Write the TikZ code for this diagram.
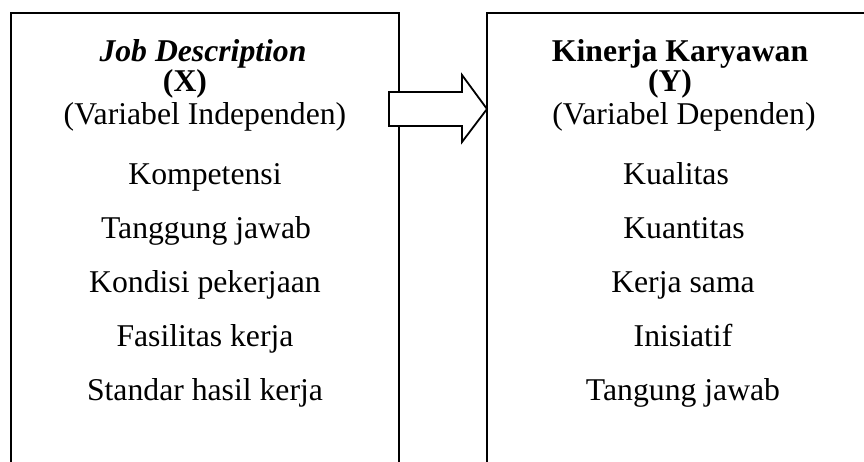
\documentclass[tikz,border=0pt]{standalone}
\usepackage{fontspec}
\setmainfont{Liberation Serif}
\usetikzlibrary{calc}
\begin{document}
\begin{tikzpicture}[x=1pt, y=-1pt, line join=miter,
  frame/.style={draw=black, line width=2.4pt, inner sep=0pt, outer sep=0pt,
                minimum width=#1, minimum height=490pt, anchor=north west},
  txt/.style={anchor=base, inner sep=0pt, font=\fontsize{31.7}{38}\selectfont},
  blockarrow/.style={draw=black, line width=1.8pt, fill=white}]
\useasboundingbox (0,0) rectangle (864,461);
\fill[white] (0,0) rectangle (864,461);

% the two variable boxes run past the lower and right edges
\begin{scope}
  \clip (0,0) rectangle (864,461);
  \node[frame=388pt] (X) at (11,13) {};
  \node[frame=400pt] (Y) at (487,13) {};
\end{scope}

% block arrow from X to Y
\coordinate (tip) at ($(Y.north west)+(0,96)$);
\draw[blockarrow] ($(tip)+(-98,-17)$) -- ($(tip)+(-25,-17)$) -- ($(tip)+(-25,-34)$)
  -- (tip) -- ($(tip)+(-25,33)$) -- ($(tip)+(-25,17)$) -- ($(tip)+(-98,17)$) -- cycle;

% independent variable
\node[txt] (x1) at (203,61)  {\bfseries\itshape Job Description};
\node[txt] (x2) at (185,91)  {\bfseries (X)};
\node[txt] (x3) at (205,124) {(Variabel Independen)};
\node[txt] (x4) at (205,184) {Kompetensi};
\node[txt] (x5) at (206,238) {Tanggung jawab};
\node[txt] (x6) at (205,292) {Kondisi pekerjaan};
\node[txt] (x7) at (205,346) {Fasilitas kerja};
\node[txt] (x8) at (205,400) {Standar hasil kerja};

% dependent variable
\node[txt] (y1) at (680,61)  {\bfseries Kinerja Karyawan};
\node[txt] (y2) at (670,91)  {\bfseries (Y)};
\node[txt] (y3) at (684,124) {(Variabel Dependen)};
\node[txt] (y4) at (676,184) {Kualitas};
\node[txt] (y5) at (684,238) {Kuantitas};
\node[txt] (y6) at (683,292) {Kerja sama};
\node[txt] (y7) at (683,346) {Inisiatif};
\node[txt] (y8) at (683,400) {Tangung jawab};
\end{tikzpicture}
\end{document}
